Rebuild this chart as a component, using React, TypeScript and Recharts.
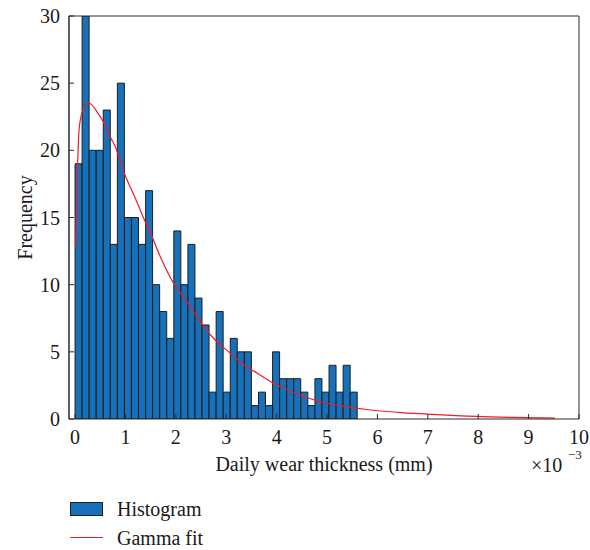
import React from 'react';
import { ComposedChart, Bar, Line, XAxis, YAxis, ReferenceLine } from 'recharts';

// Histogram bins (left edges, ×10^-3 mm) and counts
const binLeftEdges = [
  0, 0.14, 0.28, 0.42, 0.56, 0.70, 0.84, 0.98, 1.12, 1.26,
  1.40, 1.54, 1.68, 1.82, 1.96, 2.10, 2.24, 2.38, 2.52, 2.66,
  2.80, 2.94, 3.08, 3.22, 3.36, 3.50, 3.64, 3.78, 3.92, 4.06,
  4.20, 4.34, 4.48, 4.62, 4.76, 4.90, 5.04, 5.18, 5.32, 5.46,
];
const binWidth = 0.14;
const binCounts = [
  19, 30, 20, 20, 23, 13, 25, 15, 15, 13,
  17, 10, 8, 6, 14, 10, 13, 9, 7, 2,
  8, 2, 6, 5, 5, 1, 2, 1, 5, 3,
  3, 3, 2, 1, 3, 2, 4, 2, 4, 2,
];

// Gamma fit curve
const fitX = [
  0.014, 0.046, 0.079, 0.133, 0.2, 0.264, 0.33, 0.43, 0.595, 0.7,
  0.794, 0.978, 1.2, 1.39, 1.49, 1.69, 1.94, 2.15, 2.35, 2.55,
  2.81, 3.08, 3.27, 3.61, 3.93, 4.27, 4.6, 4.93, 5.26, 5.82,
  6.4, 6.98, 7.97, 8.7, 9.52,
];
const fitY = [
  12.8, 18.3, 21.5, 22.75, 23.35, 23.55, 23.4, 22.9, 21.9, 21.0,
  20.3, 18.3, 16.4, 14.7, 13.9, 12.1, 10.2, 9.1, 8.0, 6.9,
  5.77, 4.9, 4.24, 3.42, 2.68, 2.1, 1.6, 1.23, 0.99, 0.69,
  0.5, 0.37, 0.19, 0.12, 0.07,
];

const xTicks = [0, 1, 2, 3, 4, 5, 6, 7, 8, 9, 10];
const yTicks = [0, 5, 10, 15, 20, 25, 30];
const X_DOMAIN: [number, number] = [-0.12, 10];
const Y_DOMAIN: [number, number] = [0, 30];

const histData = binLeftEdges.map((e, i) => ({ center: e + binWidth / 2, count: binCounts[i] }));
const fitData = fitX.map((x, i) => ({ x, fit: fitY[i] }));

const FONT = '"Liberation Serif", "Times New Roman", serif';
const AXIS = '#2b2b2b';
const BAR_FILL = '#1671BA';
const BAR_EDGE = '#1e1e1e';
const RED = '#ee1c25';

export default function App() {
  return (
    <div style={{ position: 'absolute', left: 0, top: 0, width: 590, height: 550, fontFamily: FONT, background: '#fff' }}>
      <ComposedChart
        width={590}
        height={550}
        data={histData}
        margin={{ top: 15, right: 10, left: 0, bottom: 0 }}
        barCategoryGap={0}
        barGap={0}
        style={{ fontFamily: FONT }}
      >
        <XAxis
          xAxisId="fit"
          type="number"
          dataKey="x"
          domain={X_DOMAIN}
          allowDataOverflow
          ticks={xTicks}
          interval={0}
          height={131}
          tickSize={-5}
          tickMargin={16}
          stroke={AXIS}
          tick={{ fontSize: 20, fill: '#1a1a1a', fontFamily: FONT }}
          label={{
            content: (p: any) => {
              const vb = p.viewBox;
              return (
                <text x={vb.x + vb.width / 2} y={vb.y + 52} textAnchor="middle" fontSize={20} fill="#1a1a1a" fontFamily={FONT}>
                  Daily wear thickness (mm)
                </text>
              );
            },
          }}
        />
        <XAxis xAxisId="bins" type="number" dataKey="center" domain={X_DOMAIN} allowDataOverflow hide height={0} />
        <XAxis
          xAxisId="top"
          orientation="top"
          type="number"
          domain={X_DOMAIN}
          allowDataOverflow
          ticks={xTicks}
          interval={0}
          height={1}
          tickSize={-5}
          tick={false}
          stroke={AXIS}
        />
        <YAxis
          type="number"
          domain={Y_DOMAIN}
          allowDataOverflow
          ticks={yTicks}
          interval={0}
          width={69}
          tickSize={-5}
          tickMargin={14}
          stroke={AXIS}
          axisLine={{ stroke: AXIS }}
          tick={{ fontSize: 20, fill: '#1a1a1a', fontFamily: FONT }}
          label={{
            content: (p: any) => {
              const vb = p.viewBox;
              const cx = vb.x + 25;
              const cy = vb.y + vb.height / 2;
              return (
                <text x={cx} y={cy} transform={`rotate(-90, ${cx}, ${cy})`} textAnchor="middle" dominantBaseline="central" fontSize={20} fill="#1a1a1a" fontFamily={FONT}>
                  Frequency
                </text>
              );
            },
          }}
        />
        <YAxis
          yAxisId="right"
          orientation="right"
          type="number"
          domain={Y_DOMAIN}
          allowDataOverflow
          ticks={yTicks}
          interval={0}
          width={1}
          tickSize={-5}
          tick={false}
          stroke={AXIS}
        />
        <ReferenceLine xAxisId="fit" x={X_DOMAIN[0]} stroke={AXIS} strokeWidth={1} />
        <Bar
          xAxisId="bins"
          dataKey="count"
          fill={BAR_FILL}
          stroke={BAR_EDGE}
          strokeWidth={1}
          isAnimationActive={false}
        />
        <Line
          xAxisId="fit"
          data={fitData}
          dataKey="fit"
          type="monotone"
          stroke={RED}
          strokeWidth={1.2}
          dot={false}
          activeDot={false}
          isAnimationActive={false}
        />
      </ComposedChart>

      <div style={{ position: 'absolute', left: 531, top: 453, fontSize: 20, lineHeight: '24px', color: '#1a1a1a' }}>×10</div>
      <div style={{ position: 'absolute', left: 568, top: 448, fontSize: 13, lineHeight: '14px', color: '#1a1a1a' }}>−3</div>

      <div style={{ position: 'absolute', left: 70, top: 502, width: 33, height: 14, background: BAR_FILL, border: `1px solid ${BAR_EDGE}`, boxSizing: 'border-box' }} />
      <div style={{ position: 'absolute', left: 117, top: 497, fontSize: 20, lineHeight: '24px', color: '#1a1a1a' }}>Histogram</div>
      <div style={{ position: 'absolute', left: 70, top: 537, width: 33, height: 1, background: RED }} />
      <div style={{ position: 'absolute', left: 117, top: 526, fontSize: 20, lineHeight: '24px', color: '#1a1a1a' }}>Gamma fit</div>
    </div>
  );
}
